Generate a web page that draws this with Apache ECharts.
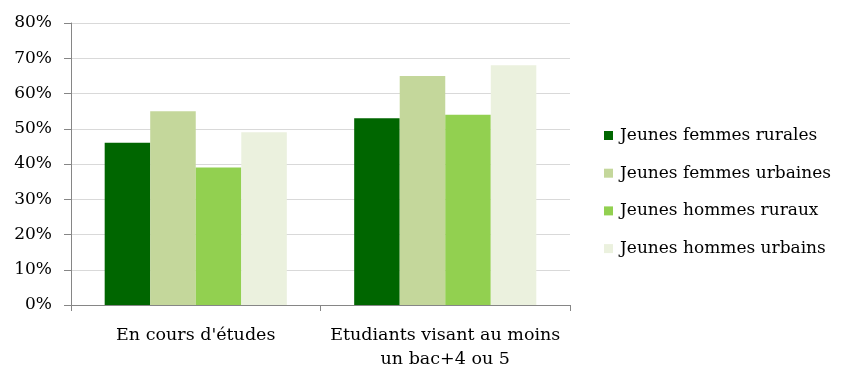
<!DOCTYPE html>
<html><head><meta charset="utf-8">
<script src="https://cdn.jsdelivr.net/npm/echarts@6/dist/echarts.min.js"></script>
<style>html,body{margin:0;padding:0;background:#fff}#c{width:865px;height:384px}</style>
</head><body><div id="c"></div>
<script>
const categories = ["En cours d'études", "Etudiants visant au moins\nun bac+4 ou 5"];
const seriesNames = ["Jeunes femmes rurales", "Jeunes femmes urbaines", "Jeunes hommes ruraux", "Jeunes hommes urbains"];
const femmesRurales = [46, 53];
const femmesUrbaines = [55, 65];
const hommesRuraux = [39, 54];
const hommesUrbains = [49, 68];
const colors = ["#006600", "#c4d79b", "#92d050", "#ebf1de"];
const values = [femmesRurales, femmesUrbaines, hommesRuraux, hommesUrbains];
const font = "'DejaVu Serif', serif";
const chart = echarts.init(document.getElementById('c'));
chart.setOption({
  animation: false,
  textStyle: {fontFamily: font},
  grid: {left: 71, right: 295, top: 23, bottom: 79},
  legend: {
    orient: 'vertical', left: 599, top: 120,
    itemWidth: 9, itemHeight: 9, itemGap: 16.7,
    icon: 'rect',
    textStyle: {fontFamily: font, fontSize: 17, color: '#000', lineHeight: 21, padding: [0,0,0,2]},
    data: seriesNames
  },
  xAxis: {
    type: 'category', data: categories,
    axisLine: {lineStyle: {color: '#868686'}},
    axisTick: {show: true, length: 6, lineStyle: {color: '#868686'}},
    axisLabel: {fontFamily: font, fontSize: 17.5, color: '#000', margin: 18, lineHeight: 24, interval: 0}
  },
  yAxis: {
    type: 'value', min: 0, max: 80, interval: 10,
    axisLine: {show: true, lineStyle: {color: '#868686'}},
    axisTick: {show: true, length: 7, lineStyle: {color: '#868686'}},
    splitLine: {lineStyle: {color: '#d9d9d9'}},
    axisLabel: {fontFamily: font, fontSize: 17, color: '#000', margin: 19, formatter: '{value}%'}
  },
  series: seriesNames.map((n, i) => ({
    name: n, type: 'bar', data: values[i],
    itemStyle: {color: colors[i]},
    barGap: '0%', barCategoryGap: '27%'
  }))
});
</script></body></html>
